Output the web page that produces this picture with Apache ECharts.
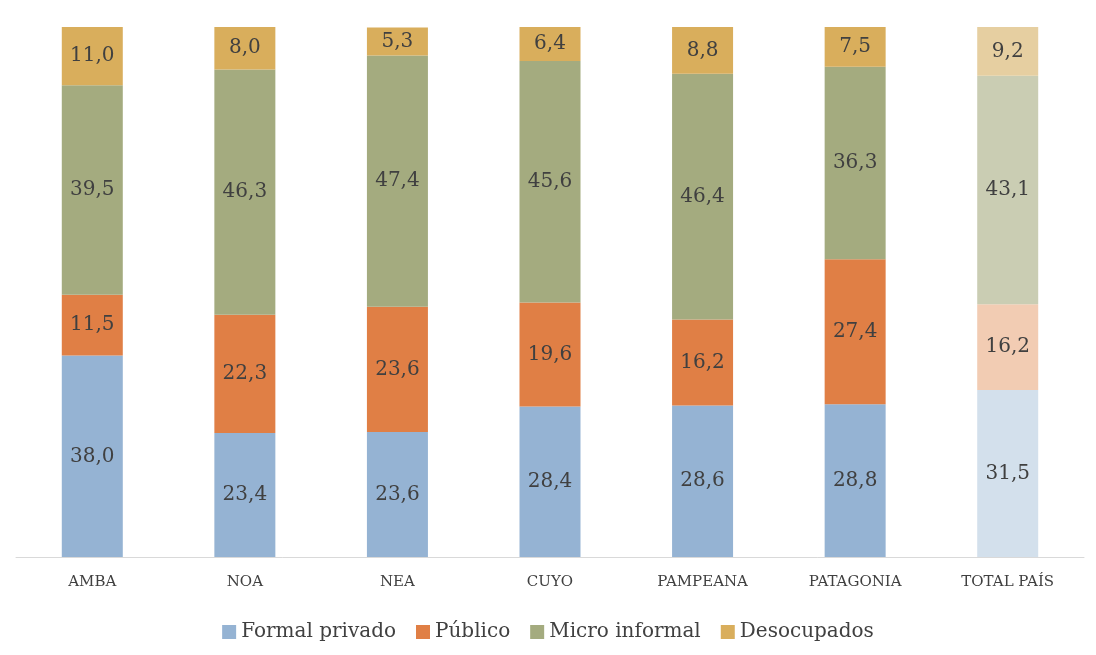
<!DOCTYPE html>
<html><head><meta charset="utf-8">
<script src="https://cdn.jsdelivr.net/npm/echarts@6/dist/echarts.min.js"></script>
<style>html,body{margin:0;padding:0;background:#fff}#c{width:1096px;height:655px}</style>
</head><body><div id="c"></div>
<script>
const regions = ['AMBA','NOA','NEA','CUYO','PAMPEANA','PATAGONIA','TOTAL PAÍS']
const formalPrivado = [38.0,23.4,23.6,28.4,28.6,28.8,31.5]
const publico = [11.5,22.3,23.6,19.6,16.2,27.4,16.2]
const microInformal = [39.5,46.3,47.4,45.6,46.4,36.3,43.1]
const desocupados = [11.0,8.0,5.3,6.4,8.8,7.5,9.2]

const colors = ['#95b3d3','#e07f45','#a4ab7f','#d9ae5c']
const lightColors = ['#d3e0ec','#f2ccb3','#cacdb3','#e6cfa1']
const font = '"DejaVu Serif", "Liberation Serif", serif'

function mk(name, data, i) {
  return {
    name, type: 'bar', stack: 'total', barWidth: 61,
    itemStyle: { color: colors[i] },
    data: data.map((v, k) => k === 6 ? { value: v, itemStyle: { color: lightColors[i] } } : v),
    label: { show: true, position: 'inside', color: '#404040', fontFamily: font, fontSize: 20,
      formatter: p => p.value.toFixed(1).replace('.', ',') }
  }
}

const chart = echarts.init(document.getElementById('c'))
chart.setOption({
  animation: false,
  color: colors,
  grid: { left: 16, right: 12, top: 27, bottom: 98 },
  legend: { bottom: 8, itemWidth: 14, itemHeight: 14, itemGap: 20, icon: 'rect',
    textStyle: { fontFamily: font, fontSize: 20, color: '#404040' },
    data: ['Formal privado','Público','Micro informal','Desocupados'] },
  xAxis: { type: 'category', data: regions,
    axisLine: { lineStyle: { color: '#d9d9d9' } }, axisTick: { show: false },
    axisLabel: { fontFamily: font, fontSize: 15, color: '#404040', margin: 18 } },
  yAxis: { type: 'value', min: 0, max: 100, show: false, splitLine: { show: false } },
  series: [
    mk('Formal privado', formalPrivado, 0),
    mk('Público', publico, 1),
    mk('Micro informal', microInformal, 2),
    mk('Desocupados', desocupados, 3)
  ]
})
</script></body></html>
